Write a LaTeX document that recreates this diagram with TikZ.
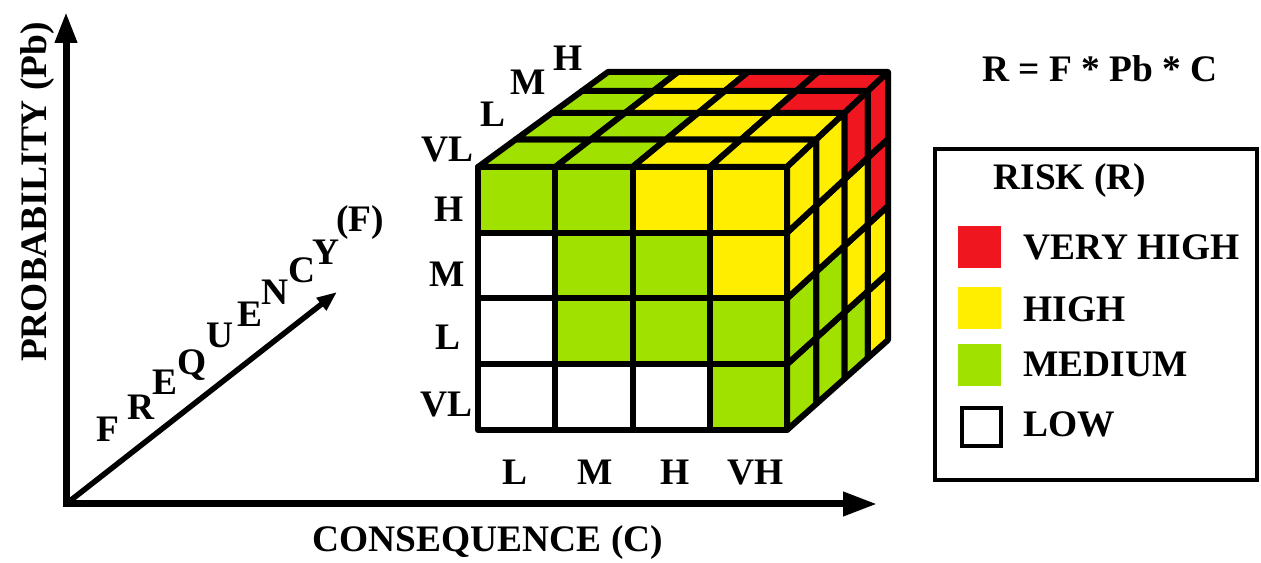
\documentclass[tikz,border=0pt]{standalone}
\usepackage{fontspec}
\setmainfont{Liberation Serif}
\usetikzlibrary{arrows.meta}
\definecolor{riskRed}{RGB}{240, 22, 32}
\definecolor{riskYellow}{RGB}{255, 238, 0}
\definecolor{riskGreen}{RGB}{160, 225, 0}
\tikzset{
    lbl/.style={font=\fontsize{21.3}{26}\selectfont\bfseries, inner sep=0pt, anchor=base},
    cell/.style={draw=black, line width=0.12cm, line join=round},
    axis/.style={line width=0.14cm, {Triangle[length=0.62cm, width=0.42cm]}-{Triangle[length=0.68cm, width=0.46cm]}},
    freqArrow/.style={line width=0.11cm, -{Triangle[length=0.4cm, width=0.3cm]}},
    swatch/.style={minimum width=0.86cm, minimum height=0.84cm, inner sep=0pt, anchor=north west}
}

\begin{document}
\begin{tikzpicture}[x=0.02cm, y=-0.02cm]
    \useasboundingbox (0,0) rectangle (1261,563);

    % --- CUBE CORNERS ---
    \foreach \u in {0,...,4}
        \foreach \v in {0,...,4}
            \foreach \w in {0,...,4} {
                \pgfmathsetmacro\t{{0,0.29,0.57,0.8,1}[\w]}
                \coordinate (c\u\v\w) at ({(1-\t)*(478+77.25*\u)+\t*(608+70*\u)}, {(1-\t)*(430-65.75*\v)+\t*(340-67*\v)});
            }

    % --- FRONT FACE (consequence x probability) ---
    \foreach \row [count=\v from 0] in {{white,white,white,riskGreen},{white,riskGreen,riskGreen,riskGreen},{white,riskGreen,riskGreen,riskYellow},{riskGreen,riskGreen,riskYellow,riskYellow}}
        \foreach \col [count=\u from 0] in \row {
            \pgfmathtruncatemacro\uu{\u+1}
            \pgfmathtruncatemacro\vv{\v+1}
            \draw[cell, fill=\col] (c\u\v0) -- (c\uu\v0) -- (c\uu\vv0) -- (c\u\vv0) -- cycle;
        }

    % --- TOP FACE (frequency rows) ---
    \foreach \row [count=\w from 0] in {{riskGreen,riskGreen,riskYellow,riskYellow},{riskGreen,riskGreen,riskYellow,riskYellow},{riskGreen,riskYellow,riskYellow,riskRed},{riskGreen,riskYellow,riskRed,riskRed}}
        \foreach \col [count=\u from 0] in \row {
            \pgfmathtruncatemacro\uu{\u+1}
            \pgfmathtruncatemacro\ww{\w+1}
            \draw[cell, fill=\col] (c\u4\w) -- (c\uu4\w) -- (c\uu4\ww) -- (c\u4\ww) -- cycle;
        }

    % --- RIGHT FACE ---
    \foreach \row [count=\v from 0] in {{riskGreen,riskGreen,riskGreen,riskYellow},{riskGreen,riskGreen,riskYellow,riskYellow},{riskYellow,riskYellow,riskYellow,riskRed},{riskYellow,riskYellow,riskRed,riskRed}}
        \foreach \col [count=\w from 0] in \row {
            \pgfmathtruncatemacro\vv{\v+1}
            \pgfmathtruncatemacro\ww{\w+1}
            \draw[cell, fill=\col] (c4\v\w) -- (c4\v\ww) -- (c4\vv\ww) -- (c4\vv\w) -- cycle;
        }

    % --- CUBE LABELS ---
    \node[lbl] (pVL) at (446,417) {VL};
    \node[lbl] (pL) at (448,350) {L};
    \node[lbl] (pM) at (447,287) {M};
    \node[lbl] (pH) at (449,222) {H};
    \node[lbl] (fVL) at (447,162) {VL};
    \node[lbl] (fL) at (493,127) {L};
    \node[lbl] (fM) at (528,95) {M};
    \node[lbl] (fH) at (568,71) {H};
    \node[lbl] (cL) at (515,485) {L};
    \node[lbl] (cM) at (595,485) {M};
    \node[lbl] (cH) at (675,485) {H};
    \node[lbl] (cVH) at (756,485) {VH};

    % --- AXES ---
    \coordinate (origin) at (66,504);
    \coordinate (probTip) at (66,12);
    \coordinate (consTip) at (877,504);
    \coordinate (freqTip) at (337,292);
    \draw[axis] (probTip) -- (origin) -- (consTip);
    \draw[freqArrow] (origin) -- (freqTip);

    \node[lbl, rotate=90] (probLabel) at (46,192) {PROBABILITY (Pb)};
    \node[lbl] (consLabel) at (488,552) {CONSEQUENCE (C)};
    \foreach \ch/\x/\y [count=\i] in {F/108/442, R/141/420, E/165/395, Q/192/375, U/220/348, E/250/327, N/275/305, C/302/283, Y/326/265}
        \node[lbl] (freq\i) at (\x,\y) {\ch};
    \node[lbl] (freqF) at (360,232) {(F)};

    % --- FORMULA + LEGEND ---
    \node[lbl] (formula) at (1100,82) {R = F * Pb * C};
    \node[draw, line width=0.08cm, inner sep=0pt, minimum width=6.44cm, minimum height=6.62cm, anchor=north west] (legendBox) at (933,147) {};
    \node[lbl] (legendTitle) at (1070,190) {RISK (R)};
    \node[swatch, fill=riskRed] (swVeryHigh) at (958,226) {};
    \node[swatch, fill=riskYellow] (swHigh) at (958,287) {};
    \node[swatch, fill=riskGreen] (swMedium) at (958,344) {};
    \node[swatch, draw, line width=0.08cm, fill=white, minimum width=0.78cm, minimum height=0.76cm] (swLow) at (960,406) {};
    \node[lbl, anchor=base west] (labVeryHigh) at (1023,260) {VERY HIGH};
    \node[lbl, anchor=base west] (labHigh) at (1023,322) {HIGH};
    \node[lbl, anchor=base west] (labMedium) at (1023,377) {MEDIUM};
    \node[lbl, anchor=base west] (labLow) at (1023,437) {LOW};
\end{tikzpicture}
\end{document}
